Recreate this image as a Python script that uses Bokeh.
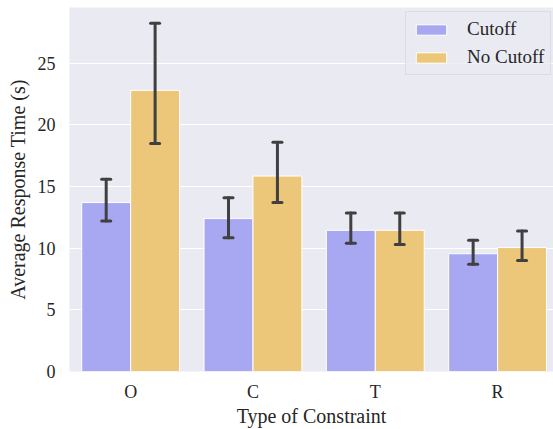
from bokeh.plotting import figure
from bokeh.models import ColumnDataSource, Range1d, FixedTicker, Legend, LegendItem
from bokeh.embed import file_html
from bokeh.resources import INLINE

categories = ["O", "C", "T", "R"]
series_names = ["Cutoff", "No Cutoff"]
cutoff_mean = [13.7, 12.4, 11.45, 9.55]
cutoff_low = [12.2, 10.85, 10.4, 8.7]
cutoff_high = [15.6, 14.1, 12.85, 10.65]
nocut_mean = [22.8, 15.85, 11.45, 10.05]
nocut_low = [18.5, 13.7, 10.3, 9.0]
nocut_high = [28.25, 18.6, 12.85, 11.4]
y_ticks = [0, 5, 10, 15, 20, 25]

colors = ["#a7a7f2", "#ecc779"]
FONT = "Liberation Serif"
TXT = "#262626"
BW = 0.4

p = figure(width=553, height=429, output_backend="svg", toolbar_location=None,
           x_range=Range1d(-0.5, 3.457), y_range=Range1d(0, 29.52),
           min_border_top=7, min_border_right=0, min_border_left=69, min_border_bottom=0)
p.background_fill_color = "#eaeaf2"
p.border_fill_color = "white"
p.outline_line_color = None

xs = list(range(len(categories)))
renderers = []
for k, (means, lows, highs) in enumerate([(cutoff_mean, cutoff_low, cutoff_high),
                                          (nocut_mean, nocut_low, nocut_high)]):
    off = -BW / 2 if k == 0 else BW / 2
    xpos = [x + off for x in xs]
    src = ColumnDataSource(dict(x=xpos, top=means, low=lows, high=highs,
                                cl=[x - 0.037 for x in xpos], cr=[x + 0.037 for x in xpos]))
    r = p.vbar(x="x", top="top", width=BW, bottom=0, source=src,
               fill_color=colors[k], line_color="white", line_width=1)
    renderers.append(r)
    p.segment(x0="x", y0="low", x1="x", y1="high", source=src,
              line_color="#404040", line_width=3, line_cap="round")
    p.segment(x0="cl", y0="low", x1="cr", y1="low", source=src,
              line_color="#404040", line_width=3, line_cap="round")
    p.segment(x0="cl", y0="high", x1="cr", y1="high", source=src,
              line_color="#404040", line_width=3, line_cap="round")

# axes
p.xaxis.ticker = FixedTicker(ticks=xs)
p.xaxis.major_label_overrides = {i: c for i, c in enumerate(categories)}
p.yaxis.ticker = FixedTicker(ticks=y_ticks)
for ax in (p.xaxis, p.yaxis):
    ax.axis_line_color = None
    ax.major_tick_line_color = None
    ax.minor_tick_line_color = None
    ax.major_tick_in = 0
    ax.major_tick_out = 0
    ax.major_label_text_font = FONT
    ax.major_label_text_font_size = "18px"
    ax.major_label_text_color = TXT
    ax.axis_label_text_font = FONT
    ax.axis_label_text_font_size = "20px"
    ax.axis_label_text_font_style = "normal"
    ax.axis_label_text_color = TXT
p.xaxis.axis_label = "Type of Constraint"
p.yaxis.axis_label = "Average Response Time (s)"
p.xaxis.major_label_standoff = 10
p.xaxis.axis_label_standoff = 0
p.yaxis.major_label_standoff = 14
p.yaxis.axis_label_standoff = 6

p.xgrid.grid_line_color = None
p.ygrid.grid_line_color = "white"
p.ygrid.grid_line_width = 1.2
p.ygrid.ticker = FixedTicker(ticks=y_ticks)

legend = Legend(items=[LegendItem(label=series_names[i], renderers=[renderers[i]]) for i in range(2)],
                location=(336, 296))
legend.background_fill_color = "#eaeaf2"
legend.background_fill_alpha = 0.8
legend.border_line_color = "#d0d0d0"
legend.border_line_width = 1
legend.label_text_font = FONT
legend.label_text_font_size = "19px"
legend.label_text_color = TXT
legend.glyph_width = 38
legend.glyph_height = 13
legend.label_height = 21
legend.label_standoff = 17
legend.spacing = 6
legend.padding = 6
legend.margin = 0
p.add_layout(legend, "center")

open("out.html", "w").write(file_html(p, INLINE))
